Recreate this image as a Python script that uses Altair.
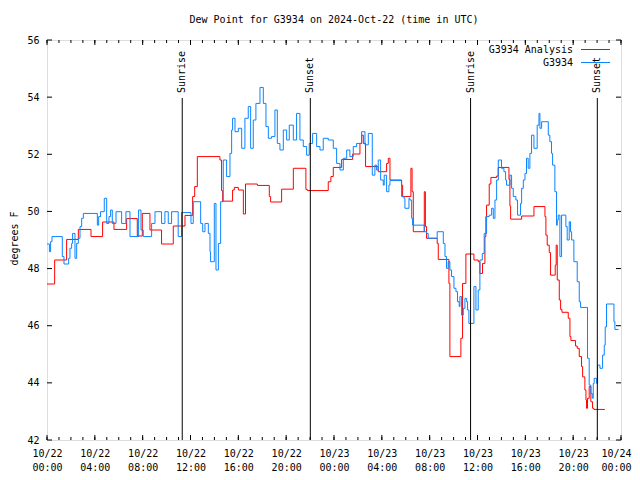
import altair as alt
import pandas as pd

# Hours since 2024-10-22 00:00 UTC, step-after series
analysis = [
    (0, 47.46), (0.64, 48.3), (1.64, 49.02), (2.62, 49.37), (3.68, 49.12), (4.65, 49.63),
    (5.6, 49.37), (6.66, 49.75), (7.55, 49.14), (7.97, 49.93), (8.61, 49.35), (9.58, 48.86),
    (10.56, 49.49), (11.54, 49.86), (12.18, 50.52), (12.35, 50.87), (12.57, 51.92), (14.46, 51.8),
    (14.6, 50.73), (14.69, 50.36), (15.52, 50.75), (15.66, 50.84), (16.0, 50.75), (16.42, 49.91),
    (16.6, 50.96), (17.59, 50.91), (18.59, 50.52), (18.7, 50.33), (19.62, 50.78), (20.6, 51.51),
    (21.65, 50.77), (21.77, 50.73), (23.52, 51.04), (23.74, 51.22), (23.94, 51.54), (24.64, 51.82),
    (25.56, 52.01), (26.17, 52.38), (26.31, 52.67), (26.45, 52.38), (26.64, 51.57), (27.7, 51.39),
    (28.4, 51.68), (28.54, 51.86), (28.68, 51.1), (29.65, 50.92), (29.74, 50.52), (30.43, 51.51),
    (30.53, 50.69), (30.63, 49.29), (31.55, 50.69), (31.64, 49.47), (31.74, 49.06), (32.63, 48.88),
    (32.72, 48.32), (33.61, 47.48), (33.69, 44.92), (34.61, 45.56), (34.75, 47.48), (35.03, 48.51),
    (35.7, 48.3), (36.06, 48.24), (36.2, 47.83), (36.42, 48.18), (36.62, 49.12), (36.7, 49.82),
    (36.76, 50.22), (36.98, 50.96), (37.12, 51.19), (37.6, 51.24), (37.73, 51.54), (38.63, 51.12),
    (38.71, 50.19), (38.77, 49.73), (39.69, 49.84), (40.72, 50.17), (41.64, 49.82), (41.72, 49.17),
    (41.83, 48.82), (42.0, 48.56), (42.11, 47.77), (42.5, 48.12), (42.58, 48.82), (42.67, 47.6),
    (42.84, 46.9), (42.95, 46.57), (43.06, 46.47), (43.59, 46.26), (43.73, 45.62), (43.81, 45.48),
    (44.2, 45.29), (44.34, 45.21), (44.51, 44.92), (44.7, 44.57), (44.79, 44.21), (44.98, 43.75),
    (45.07, 43.4), (45.12, 43.11), (45.2, 43.46), (45.34, 43.87), (45.48, 43.34), (45.62, 43.11),
    (45.73, 43.07), (46.65, 43.07),
]

observed = [
    (0, 48.86), (0.2, 48.59), (0.3, 48.94), (0.42, 49.12), (1.28, 48.42), (1.42, 48.16),
    (1.81, 48.36), (1.92, 48.71), (2.06, 48.88), (2.14, 49.23), (2.34, 48.36), (2.48, 48.88),
    (2.62, 49.06), (2.76, 49.47), (2.9, 49.76), (3.04, 49.93), (4.21, 49.52), (4.32, 49.82),
    (4.48, 49.99), (4.79, 50.46), (4.99, 49.58), (5.18, 49.82), (5.32, 50.05), (5.46, 49.58),
    (5.77, 49.99), (6.24, 49.58), (6.6, 49.99), (6.94, 49.12), (7.66, 50.05), (7.86, 49.35),
    (8.05, 49.12), (8.75, 49.58), (9.03, 49.99), (9.58, 49.58), (9.86, 49.99), (10.14, 49.58),
    (10.42, 49.99), (10.97, 49.12), (11.25, 49.96), (12.04, 49.58), (12.23, 50.34), (12.85, 49.58),
    (13.02, 49.29), (13.21, 49.58), (13.49, 49.23), (13.63, 48.59), (13.68, 48.24), (13.99, 50.28),
    (14.13, 47.95), (14.33, 48.88), (14.52, 50.34), (14.74, 51.8), (15.02, 51.22), (15.3, 52.03),
    (15.44, 52.85), (15.52, 53.26), (15.72, 52.79), (16.0, 52.91), (16.28, 52.21), (16.55, 53.26),
    (16.83, 53.67), (17.03, 52.21), (17.25, 53.2), (17.47, 53.78), (17.81, 54.34), (18.09, 53.78),
    (18.31, 52.97), (18.51, 52.56), (18.78, 52.62), (19.06, 53.55), (19.26, 52.38), (19.48, 52.15),
    (19.76, 52.85), (20.04, 52.5), (20.26, 53.02), (20.6, 52.5), (20.87, 53.43), (21.15, 52.5),
    (21.43, 52.27), (21.71, 51.97), (21.93, 52.38), (22.21, 52.73), (22.55, 52.27), (22.83, 52.15),
    (23.1, 52.56), (23.52, 52.5), (23.94, 52.21), (24.22, 51.68), (24.5, 51.45), (24.78, 51.86),
    (25.06, 52.15), (25.33, 51.92), (25.61, 52.27), (25.89, 52.38), (26.31, 52.79), (26.59, 52.33),
    (26.87, 52.73), (27.2, 51.27), (27.42, 51.62), (27.56, 51.45), (27.7, 51.8), (27.9, 51.1),
    (28.12, 50.92), (28.2, 51.27), (28.4, 50.69), (28.59, 50.92), (28.68, 51.08), (29.65, 50.52),
    (29.85, 50.46), (29.93, 50.11), (30.27, 50.46), (30.35, 50.4), (30.49, 49.76), (30.57, 49.52),
    (31.55, 49.29), (31.74, 49.23), (31.88, 49.06), (32.63, 49.29), (33.14, 48.88), (33.28, 48.42),
    (33.41, 48.01), (33.55, 48.24), (33.69, 47.95), (33.83, 47.72), (34.03, 47.31), (34.2, 47.19),
    (34.33, 46.84), (34.47, 46.67), (34.53, 47.02), (34.67, 46.37), (34.81, 46.61), (34.95, 46.96),
    (35.09, 46.84), (35.17, 46.55), (35.28, 46.08), (35.7, 47.37), (35.87, 46.55), (36.06, 47.25),
    (36.2, 48.3), (36.4, 48.53), (36.56, 49.23), (36.76, 49.82), (36.98, 49.87), (37.18, 50.11),
    (37.32, 49.76), (37.46, 50.4), (37.6, 51.1), (37.74, 51.8), (38.01, 51.51), (38.21, 51.39),
    (38.35, 51.1), (38.43, 50.92), (38.71, 51.27), (38.85, 50.81), (38.99, 50.52), (39.21, 50.4),
    (39.35, 49.87), (39.6, 50.28), (39.69, 50.81), (39.83, 51.1), (39.97, 51.33), (40.1, 51.86),
    (40.24, 51.51), (40.38, 52.03), (40.52, 52.67), (40.72, 52.21), (40.99, 53.02), (41.14, 53.43),
    (41.22, 52.91), (41.36, 53.14), (41.92, 52.67), (42.05, 52.44), (42.19, 52.03), (42.28, 51.62),
    (42.47, 50.69), (42.61, 49.52), (42.67, 49.7), (42.75, 49.87), (42.89, 48.42), (43.03, 49.87),
    (43.39, 49.47), (43.5, 49.0), (43.67, 49.64), (43.78, 49.29), (43.87, 49.0), (44.06, 48.24),
    (44.34, 47.54), (44.51, 46.84), (44.62, 46.64), (45.2, 44.86), (45.34, 43.92), (45.48, 43.63),
    (45.6, 43.46), (45.68, 43.98), (45.76, 44.16), (45.96, 43.98), (46.04, 44.62), (46.24, 44.51),
    (46.46, 44.97), (46.6, 45.32), (46.68, 45.96), (46.79, 46.76), (47.41, 46.14), (47.49, 45.87),
    (47.8, 45.87),
]

event_hours = [11.31, 22.02, 35.42, 46.02]
event_labels = ["Sunrise", "Sunset", "Sunrise", "Sunset"]

series_names = ["G3934 Analysis", "G3934"]
series_colors = ["#ff0000", "#0a84ff"]

x_major_ticks = list(range(0, 49, 4))
x_minor_ticks = list(range(0, 49, 1))
y_ticks = list(range(42, 57, 2))

TITLE = "Dew Point for G3934 on 2024-Oct-22 (time in UTC)"
FONT = "DejaVu Sans Mono"
W, H = 574, 400

df_a = pd.DataFrame(analysis, columns=["t", "v"])
df_o = pd.DataFrame(observed, columns=["t", "v"])
df_ev = pd.DataFrame({"t": event_hours, "label": event_labels})
df_xmaj = pd.DataFrame({"t": x_major_ticks})
df_xmin = pd.DataFrame({"t": x_minor_ticks})
df_y = pd.DataFrame({"v": y_ticks})

xscale = alt.Scale(domain=[0, 48], nice=False, zero=False)
yscale = alt.Scale(domain=[42, 56], nice=False, zero=False)

x_axis = alt.Axis(
    values=x_major_ticks, ticks=False, domain=False, grid=False,
    labelExpr="['10/' + (22 + floor(datum.value / 24)), ((datum.value % 24) < 10 ? '0' : '') + (datum.value % 24) + ':00']",
    labelFont=FONT, labelFontSize=10, labelColor="black", labelPadding=8,
    labelLineHeight=14, labelFlush=False, labelOverlap=False, labelAngle=0,
    labelOffset={"condition": {"test": "datum.value == 48", "value": -5}, "value": 0},
    title=None,
)
y_axis = alt.Axis(
    values=y_ticks, ticks=False, domain=False, grid=False,
    labelFont=FONT, labelFontSize=10, labelColor="black", labelPadding=8,
    title="degrees F", titleFont=FONT, titleFontSize=10, titleFontWeight="normal",
    titleColor="black", titleAngle=270, titleX=-33, titleY=198,
    titleAlign="center", titleBaseline="middle",
)

X = alt.X("t:Q", scale=xscale, axis=x_axis, title=None)
Y = alt.Y("v:Q", scale=yscale, axis=y_axis, title="degrees F")

line_a = alt.Chart(df_a).mark_line(interpolate="step-after", color=series_colors[0], strokeWidth=1).encode(
    x=X, y=Y,
)
line_o = alt.Chart(df_o).mark_line(interpolate="step-after", color=series_colors[1], strokeWidth=1).encode(
    x=X, y=Y,
)

ev_rule = alt.Chart(df_ev).mark_rule(color="black", strokeWidth=1).encode(
    x=X, y=alt.value(58), y2=alt.value(H)
)
ev_text = alt.Chart(df_ev).mark_text(
    angle=270, align="left", baseline="middle", font=FONT, fontSize=10, color="black"
).encode(x=X, y=alt.value(53), text="label:N")

def xticks(df, y0, y1):
    return alt.Chart(df).mark_rule(color="black", strokeWidth=1).encode(
        x=X, y=alt.value(y0), y2=alt.value(y1)
    )

def yticks(x0, x1):
    return alt.Chart(df_y).mark_rule(color="black", strokeWidth=1).encode(
        y=Y, x=alt.value(x0), x2=alt.value(x1)
    )

tick_layers = [
    xticks(df_xmaj, H - 5, H), xticks(df_xmin, H - 3, H),
    xticks(df_xmaj, 0, 5), xticks(df_xmin, 0, 3),
    yticks(0, 5), yticks(W - 5, W),
]

legend_layers = []
for i, (name, color) in enumerate(zip(series_names, series_colors)):
    d = pd.DataFrame({"name": [name]})
    legend_layers.append(
        alt.Chart(d).mark_text(align="right", baseline="middle", font=FONT, fontSize=10, color="black")
        .encode(text="name:N", x=alt.value(526), y=alt.value(10 + 13 * i))
    )
    legend_layers.append(
        alt.Chart(d).mark_rule(color=color, strokeWidth=1)
        .encode(x=alt.value(534), x2=alt.value(563), y=alt.value(9.5 + 13 * i))
    )

chart = alt.layer(
    line_a, line_o, ev_rule, ev_text, *tick_layers, *legend_layers
).properties(
    width=W, height=H,
    title=alt.TitleParams(TITLE, font=FONT, fontSize=10, fontWeight="normal", color="black",
                          anchor="middle", offset=2, baseline="alphabetic"),
    padding={"left": 39, "top": 32, "right": 11, "bottom": 32},
    autosize=alt.AutoSizeParams(type="none"),
).configure_view(stroke="black", strokeWidth=1).configure(background="white")

chart.save("out.html", embed_options={"renderer": "svg", "actions": False})
